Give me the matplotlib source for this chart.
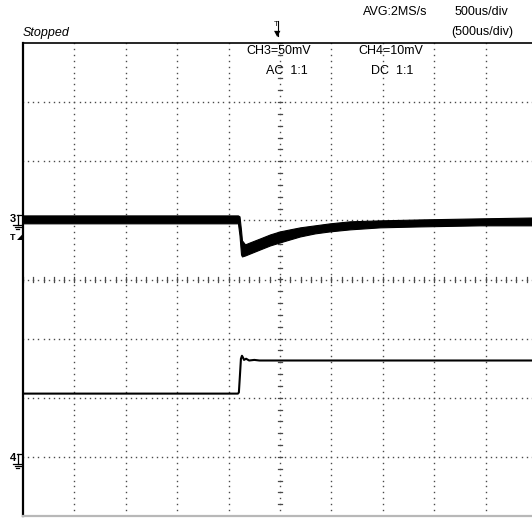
import numpy as np
import matplotlib
matplotlib.use("Agg")
import matplotlib.pyplot as plt
from matplotlib.lines import Line2D

# ---------------- data (read from the screen) ----------------
# time in microseconds relative to trigger, 500 us/div, 10 div
ch3_t = [-2500, -409, -394, -379, -370, -340, -292, -195, -97, 0, 97, 195, 340, 486, 681, 973, 1362, 1945, 2500]
# CH3 (50 mV/div, AC) noise-band upper / lower edges, mV
ch3_hi = [4.2, 4.2, 3.4, -8.5, -16.9, -20.3, -18.6, -15.3, -11.9, -9.3, -7.6, -5.9, -4.2, -2.5, -0.8, 0.0, 0.8, 1.7, 2.5]
ch3_lo = [-2.5, -2.5, -12.7, -28.8, -30.5, -29.7, -28.0, -24.6, -21.2, -18.6, -16.1, -13.6, -11.0, -9.3, -7.6, -5.9, -5.1, -4.2, -4.2]

# CH4 (10 mV/div, DC) trace, mV
ch4_t = [-2500, -409, -400, -390, -380, -370, -360, -350, -330, -300, -250, -200, 2500]
ch4_v = [11.2, 11.2, 11.4, 14.2, 17.1, 17.6, 17.3, 16.9, 17.1, 16.8, 16.9, 16.8, 16.8]

ch3_scale, ch4_scale = 50.0, 10.0      # mV/div
ch3_pos, ch4_pos = 1.0, -3.05          # ground marker position, div
tb = 500.0                             # us/div

W, H = 532, 518
fig = plt.figure(figsize=(W / 100, H / 100), dpi=100)
fig.patch.set_facecolor("white")

# axes: left border at x=23, top at y=43, bottom at y=516, right edge cut off
L, T, B = 23, 43, 516
DIVX = 51.4
ax = fig.add_axes([L / W, (H - B) / H, 10 * DIVX / W, (B - T) / H])
ax.set_xlim(0, 10)
ax.set_ylim(-4, 4)
ax.set_xticks([]); ax.set_yticks([])
for s in ax.spines.values():
    s.set_visible(False)
ax.set_facecolor("white")

def tx(t):
    return np.asarray(t) / tb + 5.0

gc = "#4a4a4a"
# dotted graticule (dots every 0.1 div)
for i in range(1, 10):
    ys = np.arange(-4, 4.001, 0.1)
    ax.plot(np.full_like(ys, i), ys, ls="none", marker="s", ms=1.0, mew=0, color=gc, zorder=1)
for j in range(-3, 4):
    xs = np.arange(0, 10.001, 0.1)
    ax.plot(xs, np.full_like(xs, j), ls="none", marker="s", ms=1.0, mew=0, color=gc, zorder=1)
# center-axis minor ticks
tk = np.arange(0, 10.001, 0.2)
for x in tk:
    ax.plot([x, x], [-0.045, 0.045], color=gc, lw=0.9, zorder=1)
tk = np.arange(-4, 4.001, 0.2)
for y in tk:
    ax.plot([5 - 0.04, 5 + 0.04], [y, y], color=gc, lw=0.9, zorder=1)

# borders
ax.plot([0, 0], [-4, 4], color="black", lw=1.6, zorder=5, clip_on=False)
ax.plot([0, 10], [4, 4], color="black", lw=1.2, zorder=5, clip_on=False)
ax.plot([0, 10], [-4, -4], color="#b8b8b8", lw=1.6, zorder=5, clip_on=False)

# traces
t3 = tx(ch3_t)
hi3 = np.asarray(ch3_hi) / ch3_scale + ch3_pos
lo3 = np.asarray(ch3_lo) / ch3_scale + ch3_pos
ax.fill_between(t3, lo3, hi3, color="black", lw=0.8, edgecolor="black", zorder=4)

ax.plot(tx(ch4_t), np.asarray(ch4_v) / ch4_scale + ch4_pos, color="black", lw=1.5, zorder=4)

# ---------------- text ----------------
fam = ["Liberation Sans", "DejaVu Sans"]
def ftext(x, y, s, **kw):
    fig.text(x / W, 1 - y / H, s, family=fam, fontsize=9, color="black", **kw)

ftext(23, 33, "Stopped", style="italic", va="center", ha="left")
ftext(363, 12, "AVG:2MS/s", va="center", ha="left")
ftext(455, 12, "500us/div", va="center", ha="left")
ftext(451, 32, "(500us/div)", va="center", ha="left")
ftext(246, 51, "CH3=50mV", va="center", ha="left")
ftext(266, 71, "AC  1:1", va="center", ha="left")
ftext(358, 51, "CH4=10mV", va="center", ha="left")
ftext(371, 71, "DC  1:1", va="center", ha="left")

# trigger position marker (top)
fig.text(276 / W, 1 - 25 / H, "T", family=fam, fontsize=5.5, ha="center", va="center")
fig.add_artist(Line2D([278 / W, 278 / W], [1 - 21 / H, 1 - 36 / H], color="black", lw=0.8))
fig.text(277.5 / W, 1 - 34 / H, "\u25BC", family=["DejaVu Sans"], fontsize=6, ha="center", va="center")

# channel ground markers on the left
def gnd_marker(label, ypix):
    fig.text(13 / W, 1 - (ypix - 1) / H, label, family=fam, fontsize=8, fontweight="bold", ha="center", va="center")
    fig.add_artist(Line2D([17 / W, 22 / W], [1 - (ypix - 5) / H, 1 - (ypix - 5) / H], color="black", lw=0.9))
    fig.add_artist(Line2D([17.5 / W, 17.5 / W], [1 - (ypix - 5) / H, 1 - (ypix + 5) / H], color="black", lw=0.9))
    fig.add_artist(Line2D([13 / W, 22 / W], [1 - (ypix + 5) / H, 1 - (ypix + 5) / H], color="black", lw=0.9))
    fig.add_artist(Line2D([14.5 / W, 20.5 / W], [1 - (ypix + 7) / H, 1 - (ypix + 7) / H], color="black", lw=0.9))
    fig.add_artist(Line2D([16 / W, 19 / W], [1 - (ypix + 9) / H, 1 - (ypix + 9) / H], color="black", lw=0.9))

gnd_marker("3", 220)
gnd_marker("4", 459)
# trigger level marker for CH3
fig.text(12.5 / W, 1 - 237 / H, "T", family=fam, fontsize=6.5, fontweight="bold", ha="center", va="center")
fig.text(20 / W, 1 - 237 / H, "\u25E2", family=["DejaVu Sans"], fontsize=5.5, ha="center", va="center")

fig.savefig("out.png", dpi=100, facecolor="white")
